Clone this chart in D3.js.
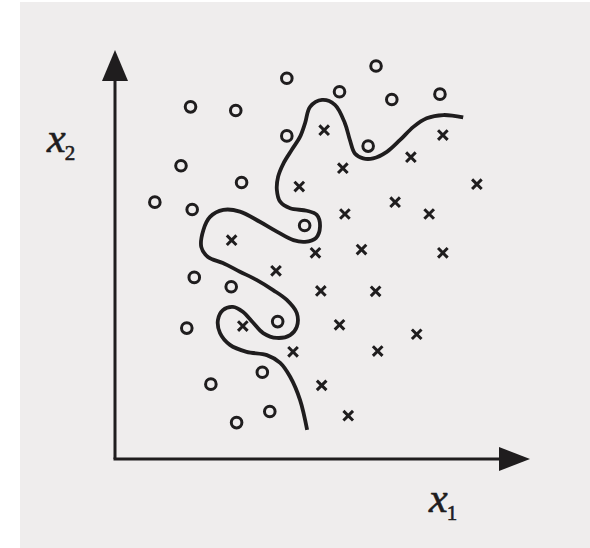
<!DOCTYPE html>
<html>
<head>
<meta charset="utf-8">
<script src="https://cdn.jsdelivr.net/npm/d3@7"></script>
<style>
  html, body { margin: 0; padding: 0; background: #ffffff; }
  svg { display: block; }
</style>
</head>
<body>
<div id="chart"></div>
<script>
// class "o" samples, [x1, x2]
const circlePts = [
  [4.14, 9.31], [6.29, 9.61], [5.41, 8.98], [6.67, 8.79], [7.83, 8.92],
  [1.82, 8.61], [2.91, 8.52], [4.14, 7.90], [6.10, 7.65], [1.59, 7.17],
  [3.05, 6.76], [0.96, 6.28], [1.86, 6.10], [4.57, 5.71], [1.91, 4.44],
  [2.80, 4.21], [1.73, 3.20], [3.92, 3.36], [3.55, 2.12], [2.31, 1.83],
  [3.73, 1.16], [2.93, 0.89]
];

// class "x" samples, [x1, x2]
const crossPts = [
  [5.04, 8.04], [7.90, 7.92], [7.13, 7.38], [5.49, 7.11], [4.44, 6.66],
  [8.72, 6.72], [6.75, 6.28], [5.54, 5.99], [7.57, 5.99], [2.81, 5.35],
  [4.83, 5.04], [5.94, 5.12], [7.90, 5.04], [3.88, 4.60], [4.96, 4.11],
  [6.28, 4.10], [3.08, 3.25], [5.41, 3.28], [7.27, 3.05], [4.29, 2.62],
  [6.33, 2.64], [4.98, 1.80], [5.62, 1.06]
];

// overfitted decision boundary, traced right end -> bottom end
const boundary = [
  [8.39, 8.35], [7.91, 8.41], [7.51, 8.33], [7.19, 8.12], [6.87, 7.80],
  [6.55, 7.51], [6.22, 7.35], [5.98, 7.35], [5.78, 7.47], [5.66, 7.80],
  [5.54, 8.21], [5.30, 8.66], [4.99, 8.78], [4.70, 8.61], [4.58, 8.21],
  [4.46, 7.88], [4.26, 7.56], [4.06, 7.23], [3.93, 6.90], [3.90, 6.58],
  [3.98, 6.29], [4.22, 6.13], [4.62, 6.07], [4.86, 5.97], [4.94, 5.68],
  [4.84, 5.40], [4.58, 5.31], [4.30, 5.35], [3.90, 5.56], [3.49, 5.80],
  [3.01, 6.05], [2.61, 6.09], [2.29, 5.92], [2.13, 5.60], [2.08, 5.18],
  [2.24, 4.94], [2.60, 4.79], [3.01, 4.58], [3.41, 4.38], [3.81, 4.13],
  [4.14, 3.89], [4.38, 3.57], [4.38, 3.23], [4.22, 3.03], [3.90, 2.96],
  [3.57, 3.08], [3.33, 3.33], [3.08, 3.60], [2.84, 3.72], [2.60, 3.64],
  [2.48, 3.40], [2.53, 3.08], [2.77, 2.79], [3.17, 2.62], [3.66, 2.54],
  [3.98, 2.35], [4.22, 2.01], [4.46, 1.44], [4.63, 0.71]
];

const axisLabels = [["x", "2"], ["x", "1"]];

const width = 590, height = 548;
const ink = "#1f1d1e";

const svg = d3.select("#chart").append("svg")
  .attr("width", width)
  .attr("height", height);

// scanned page background
svg.append("rect")
  .attr("x", 20).attr("y", 2)
  .attr("width", width - 20).attr("height", height - 2)
  .attr("fill", "#efeded");

const x = d3.scaleLinear().domain([0, 10]).range([115, 530]);
const y = d3.scaleLinear().domain([0, 10]).range([459, 50]);

const g = svg.append("g");

// axes with arrow heads
g.append("line")
  .attr("x1", x(0)).attr("y1", y(0))
  .attr("x2", x(0)).attr("y2", y(10) + 28)
  .attr("stroke", ink).attr("stroke-width", 3);
g.append("line")
  .attr("x1", x(0) - 1.5).attr("y1", y(0))
  .attr("x2", x(10) - 28).attr("y2", y(0))
  .attr("stroke", ink).attr("stroke-width", 3);

g.append("path")
  .attr("d", `M${x(0)},${y(10)} L${x(0) - 13},${y(10) + 31} L${x(0) + 13},${y(10) + 31} Z`)
  .attr("fill", ink);
g.append("path")
  .attr("d", `M${x(10)},${y(0)} L${x(10) - 31},${y(0) - 12} L${x(10) - 31},${y(0) + 12} Z`)
  .attr("fill", ink);

// boundary curve
const line = d3.line()
  .x(d => x(d[0]))
  .y(d => y(d[1]))
  .curve(d3.curveCatmullRom.alpha(0.5));

g.append("path")
  .datum(boundary)
  .attr("d", line)
  .attr("fill", "none")
  .attr("stroke", ink)
  .attr("stroke-width", 3.8);

// o markers
g.selectAll("circle.o")
  .data(circlePts)
  .join("circle")
  .attr("class", "o")
  .attr("cx", d => x(d[0]))
  .attr("cy", d => y(d[1]))
  .attr("r", 5.3)
  .attr("fill", "none")
  .attr("stroke", ink)
  .attr("stroke-width", 3);

// x markers
const s = 4.8;
g.selectAll("path.x")
  .data(crossPts)
  .join("path")
  .attr("class", "x")
  .attr("d", d => {
    const cx = x(d[0]), cy = y(d[1]);
    return `M${cx - s},${cy - s}L${cx + s},${cy + s}M${cx - s},${cy + s}L${cx + s},${cy - s}`;
  })
  .attr("stroke", ink)
  .attr("stroke-width", 3);

// axis labels
const labelPos = [[47, 152], [429, 512]];
axisLabels.forEach((lab, i) => {
  const t = svg.append("text")
    .attr("x", labelPos[i][0])
    .attr("y", labelPos[i][1])
    .attr("font-family", "'Liberation Serif', 'DejaVu Serif', serif")
    .attr("fill", ink)
    .attr("stroke", ink)
    .attr("stroke-width", 0.6);
  t.append("tspan")
    .attr("font-style", "italic")
    .attr("font-size", 42)
    .text(lab[0]);
  t.append("tspan")
    .attr("font-size", 21)
    .attr("dx", -1)
    .attr("dy", 8)
    .text(lab[1]);
});
</script>
</body>
</html>
